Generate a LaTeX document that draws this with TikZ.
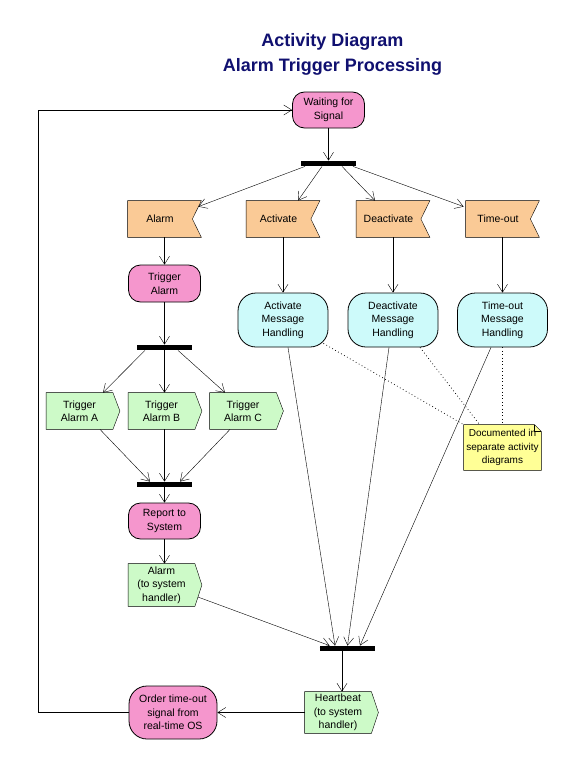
\documentclass[tikz,border=0pt]{standalone}
\usepackage{fontspec}
\setmainfont{Liberation Sans}
\usetikzlibrary{arrows.meta}
\pgfdeclarelayer{background}
\pgfsetlayers{background,main}
\definecolor{pinkf}{RGB}{245,150,205}
\definecolor{orangef}{RGB}{250,202,150}
\definecolor{cyanf}{RGB}{205,250,250}
\definecolor{greenf}{RGB}{205,250,200}
\definecolor{yellowf}{RGB}{255,255,150}
\definecolor{titleblue}{RGB}{16,16,112}
\begin{document}
\begin{tikzpicture}[x=1pt,y=-1pt, line width=0.8pt,
  every node/.style={font=\fontsize{10.5}{13.5}\selectfont, align=center, inner sep=0pt},
  pill/.style={draw, fill=pinkf, rounded corners=12pt, minimum width=72pt, minimum height=36pt},
  mh/.style={draw, fill=cyanf, rounded corners=18pt, minimum width=90pt, minimum height=54pt},
  recv/.style={minimum width=64pt, minimum height=36pt},
  send/.style={minimum width=66pt, minimum height=36pt},
  forkbar/.style={fill=black, minimum width=55pt, minimum height=5pt},
  arr/.style={-{Straight Barb[length=8pt,width=10pt]}},
  dotline/.style={line width=0.7pt, dash pattern=on 0.8pt off 2.6pt},
  titletext/.style={font=\fontsize{18}{22}\selectfont\bfseries, text=titleblue, anchor=base}
]
\useasboundingbox (0,0) rectangle (585,768);

% title
\node[titletext] (t1) at (332.5,47) {Activity Diagram};
\node[titletext] (t2) at (332.5,71) {Alarm Trigger Processing};

% nodes
\node[pill] (waiting) at (328.5,110) {Waiting for\\Signal};
\node[forkbar] (fork1) at (328,163.5) {};
\node[recv] (alarm) at (160,219) {Alarm};
\node[recv] (activate) at (278.5,219) {Activate};
\node[recv] (deactivate) at (388.5,219) {Deactivate};
\node[recv] (timeout) at (498,219) {Time-out};
\node[pill, minimum height=37pt] (trig) at (164.5,283.5) {Trigger\\Alarm};
\node[mh] (actmh) at (283,320) {Activate\\Message\\Handling};
\node[mh] (deactmh) at (393,320) {Deactivate\\Message\\Handling};
\node[mh] (tomh) at (502.5,320) {Time-out\\Message\\Handling};
\node[forkbar] (fork2) at (164.5,347.5) {};
\node[send] (ta) at (79.5,411) {Trigger\\Alarm A};
\node[send] (tb) at (161.5,411) {Trigger\\Alarm B};
\node[send] (tc) at (243,411) {Trigger\\Alarm C};
\node[forkbar] (fork3) at (164.5,484.5) {};
\node[pill] (report) at (164.5,521) {Report to\\System};
\node[send, minimum height=42pt] (alarmsys) at (161.5,585) {Alarm\\(to system\\handler)};
\node[forkbar] (fork4) at (347.5,648.5) {};
\node[send, minimum height=41pt] (heart) at (338,712.5) {Heartbeat\\(to system\\handler)};
\node[pill, minimum width=88pt, minimum height=53pt, rounded corners=18pt] (order) at (173,712.5) {Order time-out\\signal from\\real-time OS};
\node[minimum width=77pt, minimum height=45pt, font=\fontsize{10}{13.5}\selectfont] (note) at (502.5,447.5) {Documented in\\separate activity\\diagrams};
\coordinate (loopx) at (38.5,400);

% shape outlines
\begin{pgfonlayer}{background}
\fill[white] (0,0) rectangle (585,768);
\foreach \n in {alarm,activate,deactivate,timeout}
  \draw[fill=orangef] (\n.north west) -- ([xshift=9pt]\n.north east) -- (\n.east)
     -- ([xshift=9pt]\n.south east) -- (\n.south west) -- cycle;
\foreach \n in {ta,tb,tc,alarmsys,heart}
  \draw[fill=greenf] (\n.north west) -- (\n.north east) -- ([xshift=7pt]\n.east)
     -- (\n.south east) -- (\n.south west) -- cycle;
\draw[fill=yellowf] (note.north west) -- ([xshift=-7pt]note.north east) -- ([yshift=-7pt]note.north east)
   -- (note.south east) -- (note.south west) -- cycle;
\draw ([xshift=-7pt]note.north east) -- ([xshift=-7pt,yshift=-7pt]note.north east) -- ([yshift=-7pt]note.north east);
\end{pgfonlayer}

% connectors
\draw[arr] (waiting.south) -- (waiting.south |- fork1.north);
\draw[arr] ([xshift=-23pt]fork1.south) -- ([xshift=6pt,yshift=-6pt]alarm.north east);
\draw[arr] ([xshift=-6pt]fork1.south) -- ([xshift=19.5pt]activate.north);
\draw[arr] ([xshift=14pt]fork1.south) -- ([xshift=-13.5pt]deactivate.north);
\draw[arr] ([xshift=25pt]fork1.south) -- ([xshift=-2pt,yshift=-6pt]timeout.north west);

\draw[arr] (trig.north |- alarm.south) -- (trig.north);
\draw[arr] (actmh.north |- activate.south) -- (actmh.north);
\draw[arr] (deactmh.north |- deactivate.south) -- (deactmh.north);
\draw[arr] (tomh.north |- timeout.south) -- (tomh.north);

\draw[arr] (trig.south) -- (fork2.north);
\draw[arr] ([xshift=-19.5pt]fork2.south) -- ([xshift=23.5pt]ta.north);
\draw[arr] (fork2.south) -- (fork2.south |- tb.north);
\draw[arr] ([xshift=13.5pt]fork2.south) -- ([xshift=-18pt]tc.north);

\draw[arr] ([xshift=20.5pt]ta.south) -- ([xshift=-14.5pt]fork3.north);
\draw[arr] (fork3.north |- tb.south) -- (fork3.north);
\draw[arr] ([xshift=-13pt]tc.south) -- ([xshift=15.5pt]fork3.north);

\draw[arr] (fork3.south) -- (report.north);
\draw[arr] (report.south) -- (report.south |- alarmsys.north);

\draw[arr] ([xshift=3pt,yshift=-12pt]alarmsys.east) -- ([xshift=10pt]fork4.north west);
\draw[arr] ([xshift=5pt]actmh.south) -- ([xshift=-12.5pt]fork4.north);
\draw[arr] ([xshift=-4pt]deactmh.south) -- (fork4.north);
\draw[arr] ([xshift=-11.5pt]tomh.south) -- ([xshift=12.5pt]fork4.north);

\draw[arr] ([xshift=-5.5pt]fork4.south) -- ([xshift=4pt]heart.north);
\draw[arr] (heart.west) -- (order.east);
\draw[arr] (order.west) -- (order.west -| loopx) -- (waiting.west -| loopx) -- (waiting.west);

% note links
\draw[dotline] ([xshift=-5pt,yshift=4pt]actmh.south east) -- (note.north west);
\draw[dotline] ([xshift=27pt]deactmh.south) -- ([xshift=16pt]note.north west);
\draw[dotline] (tomh.south) -- (note.north);
\end{tikzpicture}
\end{document}
